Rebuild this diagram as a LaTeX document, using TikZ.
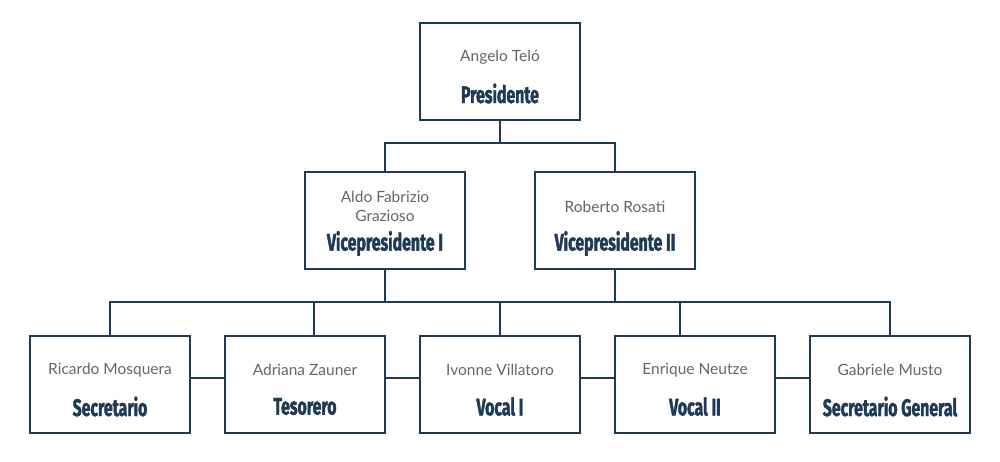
\documentclass[tikz,border=0pt]{standalone}
\usepackage{fontspec}
\setmainfont{Lato}
\newfontfamily\ttlfont[FakeStretch=0.66,BoldFeatures={FakeBold=1.6}]{Fira Sans}
\definecolor{navy}{HTML}{1E3A56}
\definecolor{namegray}{HTML}{666666}
\tikzset{
  box/.style={draw=navy, line width=2pt, fill=white, minimum width=160pt, minimum height=97pt, inner sep=0pt},
  pname/.style={text=namegray, font=\fontsize{15.5}{19}\selectfont, align=center, inner sep=0pt},
  ptitle/.style={text=navy, font=\ttlfont\bfseries\fontsize{24}{26}\selectfont, inner sep=0pt, yshift=1.5pt},
  conn/.style={draw=navy, line width=2pt}
}
\begin{document}
\begin{tikzpicture}[x=1pt,y=-1pt]
\useasboundingbox (0,0) rectangle (1000,461);
% boxes
\node[box] (top) at (500,71) {};
\node[box] (vp1) at (385,220.5) {};
\node[box] (vp2) at (615,220.5) {};
\node[box] (b1) at (110,384) {};
\node[box] (b2) at (305,384) {};
\node[box] (b3) at (500,384) {};
\node[box] (b4) at (695,384) {};
\node[box] (b5) at (890,384) {};
% texts
\node[pname] (n0) at (500,57) {Angelo Teló};
\node[ptitle] (t0) at (500,95) {Presidente};
\node[pname] (n1) at (385,206.5) {Aldo Fabrizio\\Grazioso};
\node[ptitle] (t1) at (385,245) {Vicepresidente I};
\node[pname] (n2) at (615,207) {Roberto Rosati};
\node[ptitle] (t2) at (615,245) {Vicepresidente II};
\node[pname] (n3) at (110,370) {Ricardo Mosquera};
\node[ptitle] (t3) at (110,408) {Secretario};
\node[pname] (n4) at (305,370) {Adriana Zauner};
\node[ptitle] (t4) at (305,408) {Tesorero};
\node[pname] (n5) at (500,370) {Ivonne Villatoro};
\node[ptitle] (t5) at (500,408) {Vocal I};
\node[pname] (n6) at (695,370) {Enrique Neutze};
\node[ptitle] (t6) at (695,408) {Vocal II};
\node[pname] (n7) at (890,370) {Gabriele Musto};
\node[ptitle] (t7) at (890,408) {Secretario General};
% connectors
\coordinate (busL) at (110,302);
\coordinate (busR) at (890,302);
\draw[conn] (top.south) -- ++(0,22) -| (vp1.north);
\draw[conn] (top.south) -- ++(0,22) -| (vp2.north);
\draw[conn] (b1.north) |- (busR) -- (b5.north);
\draw[conn] (vp1.south) -- (vp1.south |- busL);
\draw[conn] (vp2.south) -- (vp2.south |- busL);
\draw[conn] ([xshift=9pt]b2.north) -- ([xshift=9pt]b2.north |- busL);
\draw[conn] (b3.north) -- (b3.north |- busL);
\draw[conn] ([xshift=-15pt]b4.north) -- ([xshift=-15pt]b4.north |- busL);
\draw[conn] ([yshift=6pt]b1.east) -- ([yshift=6pt]b2.west);
\draw[conn] ([yshift=6pt]b2.east) -- ([yshift=6pt]b3.west);
\draw[conn] ([yshift=6pt]b3.east) -- ([yshift=6pt]b4.west);
\draw[conn] ([yshift=6pt]b4.east) -- ([yshift=6pt]b5.west);
\end{tikzpicture}
\end{document}
